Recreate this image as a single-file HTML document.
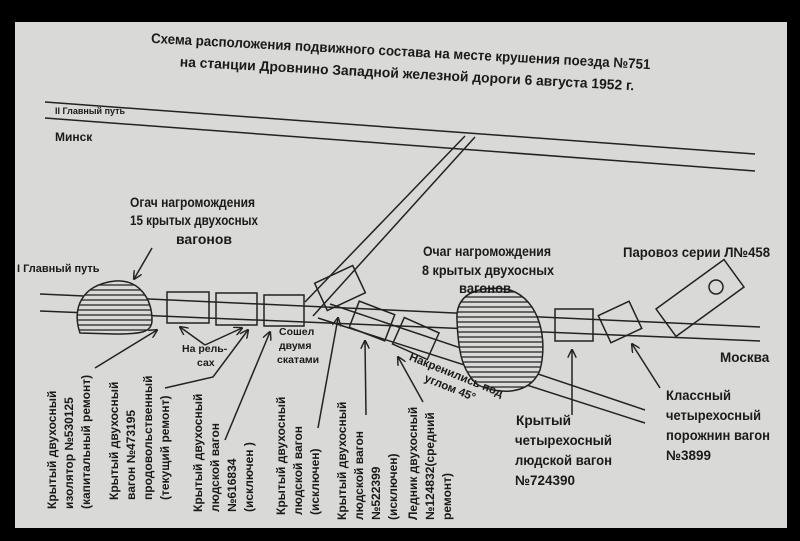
<!DOCTYPE html>
<html><head><meta charset="utf-8"><style>
html,body{margin:0;padding:0;background:#000;}
svg{display:block;}
text{font-family:"Liberation Sans Narrow","Liberation Sans","DejaVu Sans",sans-serif;fill:#1a1a1a;}
</style></head><body>
<svg width="800" height="541" viewBox="0 0 800 541" xmlns="http://www.w3.org/2000/svg">
<defs>
<marker id="a" viewBox="0 0 10 10" refX="9" refY="5" markerWidth="9" markerHeight="9" orient="auto-start-reverse" markerUnits="userSpaceOnUse">
<path d="M0,0 L10,5 L0,10" fill="none" stroke="#222" stroke-width="1.6"/></marker>
<clipPath id="c1"><path d="M80,333 C72,310 80,285 115,281 C140,279 152,300 152,320 C152,333 140,334 115,334 Z"/></clipPath>
<clipPath id="c2"><path d="M457,320 C455,290 485,285 510,290 C540,300 548,340 540,370 C530,395 500,395 478,385 C460,370 458,345 457,320 Z"/></clipPath>
</defs>
<rect x="0" y="0" width="800" height="541" fill="#000"/>
<rect x="15" y="22" width="772" height="506" fill="#d9d9d7"/>
<g stroke="#222" stroke-width="1.5" fill="none">
<line x1="45" y1="102" x2="755" y2="154"/>
<line x1="45" y1="118" x2="755" y2="171"/>
<line x1="465" y1="136" x2="305" y2="302"/>
<line x1="475" y1="137" x2="313" y2="316"/>
<line x1="40" y1="294" x2="760" y2="327"/>
<line x1="40" y1="311" x2="760" y2="341"/>
<line x1="330" y1="304" x2="645" y2="410"/>
<line x1="318" y1="318" x2="645" y2="423"/>
<path d="M80,333 C72,310 80,285 115,281 C140,279 152,300 152,320 C152,333 140,334 115,334 Z" fill="#d9d9d7"/>
<g clip-path="url(#c1)" stroke-width="1.3">
<line x1="70" y1="285" x2="160" y2="285"/><line x1="70" y1="290" x2="160" y2="290"/><line x1="70" y1="295" x2="160" y2="295"/><line x1="70" y1="300" x2="160" y2="300"/><line x1="70" y1="305" x2="160" y2="305"/><line x1="70" y1="310" x2="160" y2="310"/><line x1="70" y1="315" x2="160" y2="315"/><line x1="70" y1="320" x2="160" y2="320"/><line x1="70" y1="325" x2="160" y2="325"/><line x1="70" y1="330" x2="160" y2="330"/>
</g>
<path d="M457,320 C455,290 485,285 510,290 C540,300 548,340 540,370 C530,395 500,395 478,385 C460,370 458,345 457,320 Z" fill="#d9d9d7"/>
<g clip-path="url(#c2)" stroke-width="1.3">
<line x1="450" y1="292" x2="550" y2="292"/><line x1="450" y1="297" x2="550" y2="297"/><line x1="450" y1="302" x2="550" y2="302"/><line x1="450" y1="307" x2="550" y2="307"/><line x1="450" y1="312" x2="550" y2="312"/><line x1="450" y1="317" x2="550" y2="317"/><line x1="450" y1="322" x2="550" y2="322"/><line x1="450" y1="327" x2="550" y2="327"/><line x1="450" y1="332" x2="550" y2="332"/><line x1="450" y1="337" x2="550" y2="337"/><line x1="450" y1="342" x2="550" y2="342"/><line x1="450" y1="347" x2="550" y2="347"/><line x1="450" y1="352" x2="550" y2="352"/><line x1="450" y1="357" x2="550" y2="357"/><line x1="450" y1="362" x2="550" y2="362"/><line x1="450" y1="367" x2="550" y2="367"/><line x1="450" y1="372" x2="550" y2="372"/><line x1="450" y1="377" x2="550" y2="377"/><line x1="450" y1="382" x2="550" y2="382"/><line x1="450" y1="387" x2="550" y2="387"/>
</g>
<rect x="167" y="292" width="42" height="31"/>
<rect x="216" y="293" width="41" height="32"/>
<rect x="264" y="295" width="40" height="31"/>
<rect x="-21" y="-15" width="42" height="30" transform="translate(340,288) rotate(-25)"/>
<rect x="-19" y="-14" width="38" height="28" transform="translate(372,321) rotate(21)"/>
<rect x="-19" y="-14" width="38" height="29" transform="translate(416,338) rotate(24)"/>
<rect x="555" y="309" width="38" height="32"/>
<rect x="-17" y="-15" width="34" height="30" transform="translate(620,322) rotate(-25)"/>
<rect x="-42" y="-17" width="84" height="34" transform="translate(700,298) rotate(-36)"/>
<circle cx="716" cy="287" r="7"/>
<line x1="152" y1="248" x2="134" y2="279" marker-end="url(#a)"/>
<line x1="95" y1="368" x2="157" y2="330" marker-end="url(#a)"/>
<line x1="205" y1="345" x2="180" y2="327" marker-end="url(#a)"/>
<line x1="205" y1="345" x2="242" y2="328" marker-end="url(#a)"/>
<polyline points="165,388 213,377 248,330" marker-end="url(#a)"/>
<line x1="225" y1="440" x2="270" y2="332" marker-end="url(#a)"/>
<line x1="318" y1="428" x2="338" y2="318" marker-end="url(#a)"/>
<line x1="366" y1="415" x2="365" y2="341" marker-end="url(#a)"/>
<line x1="423" y1="402" x2="398" y2="357" marker-end="url(#a)"/>
<line x1="572" y1="415" x2="572" y2="350" marker-end="url(#a)"/>
<line x1="660" y1="388" x2="632" y2="344" marker-end="url(#a)"/>
</g>
<g transform="rotate(3 400 65)">
<text x="150" y="56" font-size="14" font-weight="bold" textLength="500" lengthAdjust="spacingAndGlyphs">Схема расположения подвижного состава на месте крушения поезда №751</text>
<text x="180" y="78" font-size="14" font-weight="bold" textLength="455" lengthAdjust="spacingAndGlyphs">на станции Дровнино Западной железной дороги 6 августа 1952 г.</text>
</g>
<g font-weight="bold">
<text x="55" y="114" font-size="9">II Главный путь</text>
<text x="55" y="141" font-size="12">Минск</text>
<text x="130" y="207" font-size="14" textLength="125" lengthAdjust="spacingAndGlyphs">Огач нагромождения</text>
<text x="130" y="225" font-size="14" textLength="128" lengthAdjust="spacingAndGlyphs">15 крытых двухосных</text>
<text x="176" y="244" font-size="14" textLength="56" lengthAdjust="spacingAndGlyphs">вагонов</text>
<text x="17" y="272" font-size="11">I Главный путь</text>
<text x="182" y="352" font-size="10.5">На рель-</text>
<text x="197" y="366" font-size="10.5">сах</text>
<text x="279" y="335" font-size="10.5">Сошел</text>
<text x="279" y="349" font-size="10.5">двумя</text>
<text x="277" y="363" font-size="10.5">скатами</text>
<text x="423" y="256" font-size="13.5" textLength="128" lengthAdjust="spacingAndGlyphs">Очаг нагромождения</text>
<text x="422" y="275" font-size="13.5" textLength="132" lengthAdjust="spacingAndGlyphs">8 крытых двухосных</text>
<text x="459" y="293" font-size="13.5" textLength="52" lengthAdjust="spacingAndGlyphs">вагонов</text>
<text x="623" y="257" font-size="13.5" textLength="147" lengthAdjust="spacingAndGlyphs">Паровоз серии Л№458</text>
<text x="720" y="362" font-size="13.5">Москва</text>
<g transform="rotate(22 410 356)">
<text x="410" y="360" font-size="11.5">Накренились под</text>
<text x="432" y="374" font-size="11.5">углом 45°</text>
</g>
<g font-size="13.5">
<text x="516" y="425" textLength="55" lengthAdjust="spacingAndGlyphs">Крытый</text>
<text x="515" y="445" textLength="97" lengthAdjust="spacingAndGlyphs">четырехосный</text>
<text x="515" y="465" textLength="97" lengthAdjust="spacingAndGlyphs">людской вагон</text>
<text x="515" y="485" textLength="60" lengthAdjust="spacingAndGlyphs">№724390</text>
<text x="666" y="400" textLength="65" lengthAdjust="spacingAndGlyphs">Классный</text>
<text x="666" y="420" textLength="95" lengthAdjust="spacingAndGlyphs">четырехосный</text>
<text x="666" y="440" textLength="104" lengthAdjust="spacingAndGlyphs">порожнин вагон</text>
<text x="666" y="460" textLength="45" lengthAdjust="spacingAndGlyphs">№3899</text>
</g>
<g font-size="12">
<g transform="translate(56,509) rotate(-90)"><text x="0" y="0">Крытый двухосный</text><text x="0" y="17">изолятор №530125</text><text x="0" y="34">(капитальный ремонт)</text></g>
<g transform="translate(118,500) rotate(-90)"><text x="0" y="0">Крытый двухосный</text><text x="0" y="17">вагон №473195</text><text x="0" y="34">продовольственный</text><text x="0" y="51">(текущий ремонт)</text></g>
<g transform="translate(202,512) rotate(-90)"><text x="0" y="0">Крытый двухосный</text><text x="0" y="17">людской вагон</text><text x="0" y="34">№616834</text><text x="0" y="51">(исключен )</text></g>
<g transform="translate(285,515) rotate(-90)"><text x="0" y="0">Крытый двухосный</text><text x="0" y="17">людской вагон</text><text x="0" y="34">(исключен)</text></g>
<g transform="translate(346,520) rotate(-90)"><text x="0" y="0">Крытый двухосный</text><text x="0" y="17">людской вагон</text><text x="0" y="34">№522399</text><text x="0" y="51">(исключен)</text></g>
<g transform="translate(417,520) rotate(-90)"><text x="0" y="0">Ледник двухосный</text><text x="0" y="17">№124832(средний</text><text x="0" y="34">ремонт)</text></g>
</g>
</g>
</svg>
</body></html>
